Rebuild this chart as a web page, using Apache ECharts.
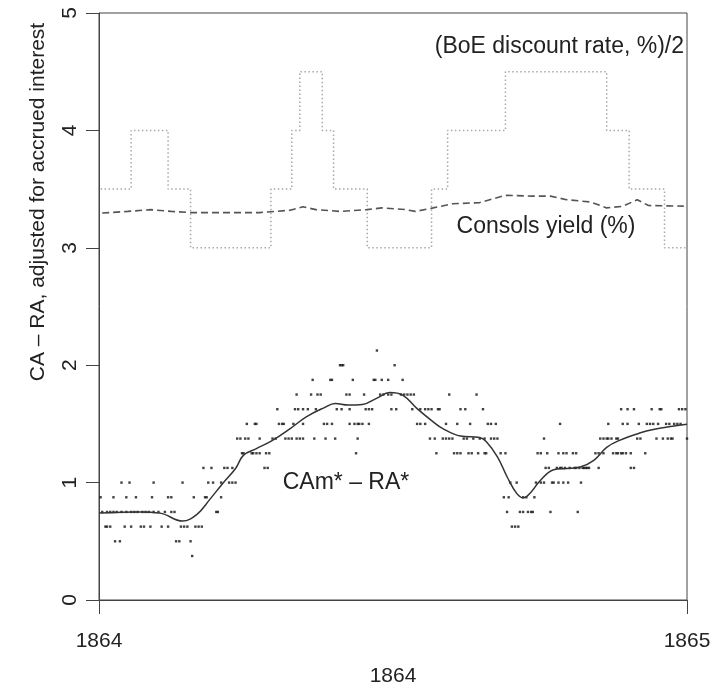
<!DOCTYPE html>
<html>
<head>
<meta charset="utf-8">
<script src="https://cdn.jsdelivr.net/npm/echarts@6/dist/echarts.min.js"></script>
<style>
    html, body { margin: 0; background: #fff; }
    #chart { width: 716px; height: 688px; }
</style>
</head>
<body>
<div id="chart"></div>
<script>
// everything on the x axis is a day of 1864 (leap year)
const YEAR = 1864;
const DAYS_IN_YEAR = 366;

// Bank of England discount rate / 2, value holds from the given day
const boeDays = [1, 20, 43, 57, 107, 120, 125, 139, 146, 167, 207, 217, 253, 316, 330, 352, 365];
const boeHalfRate = [3.5, 4.0, 3.5, 3.0, 3.5, 4.0, 4.5, 4.0, 3.5, 3.0, 3.5, 4.0, 4.5, 4.0, 3.5, 3.0, 3.0];

// Consols yield (%)
const consolsDays = [2, 18, 32, 45, 57, 80, 100, 119, 127, 135, 150, 167, 176, 191, 197, 208, 220, 237, 253, 270, 281, 291, 306, 316, 326, 335, 342, 364];
const consolsYield = [3.296, 3.31, 3.325, 3.31, 3.30, 3.30, 3.30, 3.32, 3.35, 3.325, 3.31, 3.325, 3.34, 3.325, 3.31, 3.34, 3.375, 3.385, 3.447, 3.44, 3.44, 3.41, 3.39, 3.34, 3.353, 3.41, 3.36, 3.355];

// smoothed CAm* - RA*
const smoothDays = [0, 25, 38, 52, 61, 69, 77, 85, 90, 98, 108, 119, 129, 140, 147, 155, 164, 173, 181, 189, 198, 208, 214, 225, 237, 241, 248, 254, 260, 264, 269, 274, 283, 291, 299, 308, 316, 324, 337, 345, 357, 366];
const smoothValues = [0.74, 0.75, 0.74, 0.672, 0.73, 0.857, 0.993, 1.12, 1.234, 1.29, 1.36, 1.46, 1.56, 1.637, 1.674, 1.66, 1.665, 1.72, 1.767, 1.745, 1.63, 1.518, 1.46, 1.396, 1.385, 1.35, 1.22, 1.05, 0.908, 0.87, 0.92, 1.007, 1.11, 1.12, 1.13, 1.19, 1.30, 1.36, 1.424, 1.452, 1.48, 1.498];

// daily CAm* - RA* observations, grouped by price level (1/8 steps)
const dotLevels = [2.125, 2.0, 1.875, 1.75, 1.625, 1.5, 1.375, 1.25, 1.125, 1.0, 0.875, 0.75, 0.625, 0.5, 0.375];
const dotDays = [
    [173],
    [150, 151, 152, 184],
    [133, 144, 145, 158, 171, 172, 176, 180, 189],
    [123, 132, 136, 138, 154, 156, 165, 175, 177, 180, 182, 188, 190, 192, 194, 196, 218, 235],
    [111, 122, 124, 127, 130, 135, 148, 151, 156, 166, 168, 170, 182, 185, 195, 200, 203, 205, 207, 211, 212, 225, 228, 239, 325, 329, 333, 344, 349, 350, 361, 363, 365],
    [92, 97, 98, 112, 114, 115, 121, 127, 140, 142, 145, 156, 159, 161, 162, 164, 168, 198, 200, 203, 216, 223, 231, 242, 244, 247, 287, 317, 326, 329, 336, 341, 343, 345, 348, 353, 355, 358, 360, 362],
    [86, 88, 91, 93, 100, 108, 110, 116, 118, 120, 123, 125, 127, 134, 141, 147, 161, 206, 209, 214, 216, 218, 220, 227, 229, 233, 237, 240, 244, 246, 248, 277, 312, 314, 316, 317, 319, 322, 323, 335, 337, 347, 351, 354, 356, 357, 366],
    [89, 90, 95, 96, 98, 100, 104, 106, 160, 210, 221, 223, 225, 230, 232, 236, 240, 241, 250, 253, 273, 275, 279, 286, 289, 291, 295, 297, 309, 311, 314, 320, 322, 323, 325, 326, 328, 331, 340],
    [65, 70, 78, 80, 83, 103, 105, 278, 280, 285, 287, 288, 290, 293, 296, 297, 299, 301, 302, 303, 304, 305, 311, 331, 333],
    [14, 19, 34, 52, 68, 71, 76, 81, 83, 85, 256, 260, 272, 275, 277, 282, 283, 286, 289, 292, 300],
    [1, 9, 17, 23, 33, 43, 45, 59, 66, 67, 76, 252, 255, 264, 266, 271],
    [2, 5, 7, 9, 11, 14, 17, 20, 22, 24, 27, 29, 31, 34, 37, 41, 45, 47, 73, 74, 254, 262, 264, 267, 269, 270, 281, 298],
    [4, 5, 7, 16, 20, 26, 28, 32, 39, 43, 51, 53, 55, 60, 62, 64, 257, 259, 261],
    [10, 13, 48, 50, 57],
    [58]
];

const FONT = '"Liberation Sans", Arial, Helvetica, sans-serif';

function toYear(d) {
    return YEAR + d / DAYS_IN_YEAR;
}

function pairs(days, values) {
    return days.map((d, i) => [toYear(d), values[i]]);
}

const dots = [];
dotLevels.forEach((level, i) => {
    dotDays[i].forEach(d => dots.push([toYear(d), level]));
});

const chart = echarts.init(document.getElementById('chart'));

const option = {
    animation: false,
    backgroundColor: '#fff',
    grid: {
        left: 99, right: 29, top: 13, bottom: 88,
        outerBoundsMode: 'none',
        containLabel: false,
        show: true, borderColor: '#444', borderWidth: 1
    },
    xAxis: {
        type: 'value',
        min: 1864, max: 1865, interval: 1,
        name: '1864',
        nameLocation: 'middle',
        nameGap: 66,
        nameTextStyle: { fontSize: 21, color: '#222', fontFamily: FONT },
        axisLine: { show: true, lineStyle: { color: '#444', width: 1 } },
        axisTick: { show: true, length: 14, lineStyle: { color: '#444' } },
        axisLabel: {
            fontSize: 21, color: '#222', fontFamily: FONT, margin: 31,
            formatter: v => String(v)
        },
        splitLine: { show: false }
    },
    yAxis: {
        type: 'value',
        min: 0, max: 5, interval: 1,
        axisLine: { show: true, lineStyle: { color: '#444', width: 1 } },
        axisTick: { show: true, length: 13, lineStyle: { color: '#444' } },
        axisLabel: { fontSize: 21, color: '#222', fontFamily: FONT, rotate: 90, margin: 18 },
        splitLine: { show: false }
    },
    series: [
        {
            name: 'BoE',
            type: 'line',
            step: 'end',
            showSymbol: false,
            data: pairs(boeDays, boeHalfRate),
            lineStyle: { color: '#a8a8a8', width: 1.5, type: [1.5, 2.5] }
        },
        {
            name: 'Consols',
            type: 'line',
            showSymbol: false,
            data: pairs(consolsDays, consolsYield),
            lineStyle: { color: '#555', width: 1.6, type: [7, 4] }
        },
        {
            name: 'CAm-RA smooth',
            type: 'line',
            smooth: 0.4,
            showSymbol: false,
            data: pairs(smoothDays, smoothValues),
            lineStyle: { color: '#333', width: 1.5 }
        },
        {
            name: 'CAm-RA',
            type: 'scatter',
            symbol: 'rect',
            symbolSize: 2.4,
            data: dots,
            itemStyle: { color: '#111' }
        }
    ],
    graphic: [
        {
            type: 'text', x: 684, y: 47,
            style: { text: '(BoE discount rate, %)/2', fill: '#222', font: '23px ' + FONT, align: 'right', verticalAlign: 'middle' }
        },
        {
            type: 'text', x: 546, y: 227,
            style: { text: 'Consols yield (%)', fill: '#222', font: '23px ' + FONT, align: 'center', verticalAlign: 'middle' }
        },
        {
            type: 'text', x: 346, y: 483,
            style: { text: 'CAm* – RA*', fill: '#222', font: '23px ' + FONT, align: 'center', verticalAlign: 'middle' }
        },
        {
            type: 'text', x: 38, y: 202, rotation: Math.PI / 2,
            style: { text: 'CA – RA, adjusted for accrued interest', fill: '#222', font: '21px ' + FONT, align: 'center', verticalAlign: 'middle' }
        }
    ]
};

chart.setOption(option);
</script>
</body>
</html>
